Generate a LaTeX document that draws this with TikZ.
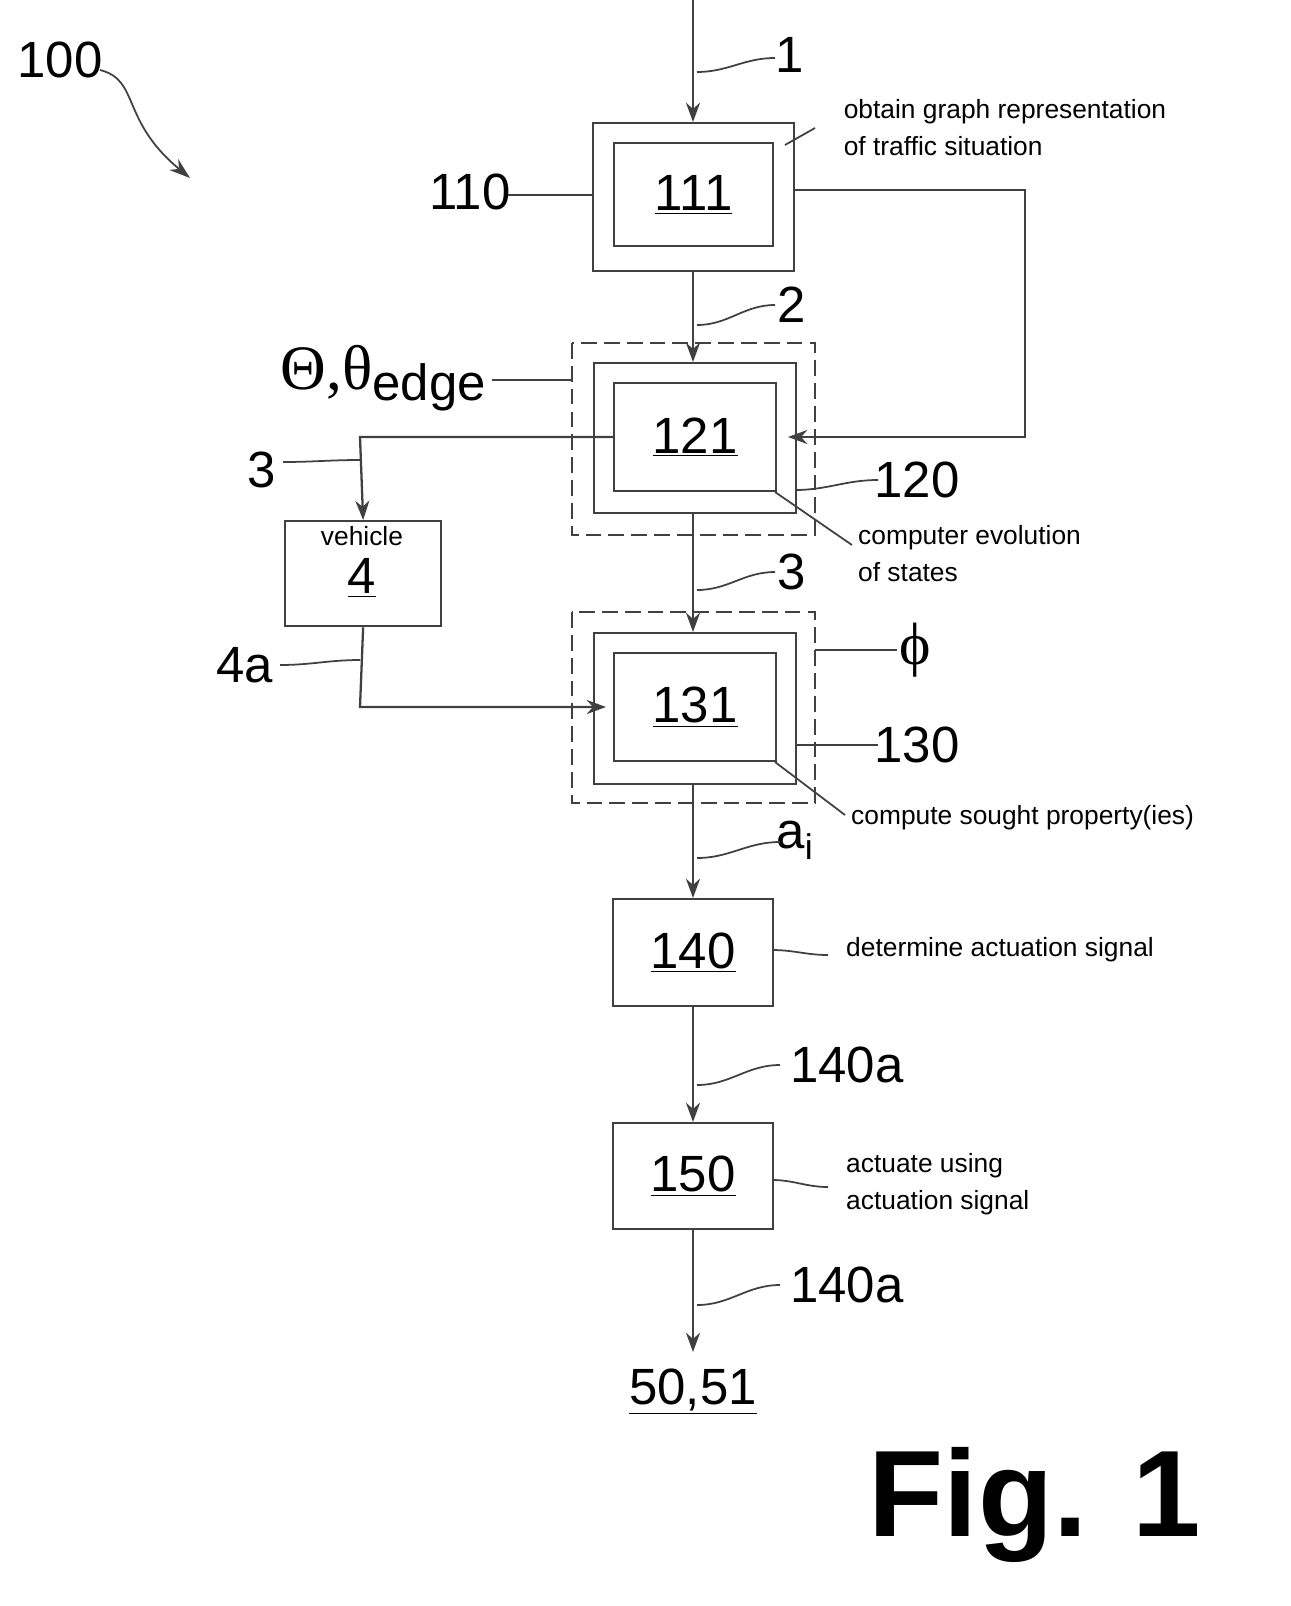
\documentclass[tikz,border=0pt]{standalone}
\usepackage{fontspec}
\setmainfont{Liberation Sans}
\newfontfamily\serifg{Liberation Serif}
\usetikzlibrary{arrows.meta,calc}
\begin{document}
\begin{tikzpicture}[x=0.02cm,y=-0.02cm,
  ln/.style={draw=black!75,line width=1.3pt},
  box/.style={ln,rectangle,inner sep=0pt,anchor=north west},
  dbox/.style={draw=black!75,line width=1.3pt,dash pattern=on 9pt off 4pt},
  arr/.style={ln,-{Stealth[length=11pt,width=8pt]}},
  lead/.style={draw=black!75,line width=1pt,out=0,in=180},
  leadr/.style={draw=black!75,line width=1pt,out=180,in=0},
  num/.style={font=\fontsize{29}{32}\selectfont},
  txt/.style={font=\fontsize{15}{21}\selectfont,align=left}]
\useasboundingbox (0,0) rectangle (1291,1606);
% boxes
\node[box,minimum width=201*0.02cm,minimum height=148*0.02cm] (b110) at (592,122) {};
\node[box,minimum width=159*0.02cm,minimum height=103*0.02cm] (b111) at (613,142) {};
\node[num] at (b111.center) {\underline{111}};
\draw[dbox] (572,343) rectangle (815,535);
\node[box,minimum width=202*0.02cm,minimum height=150*0.02cm] (b120) at (593,362) {};
\node[box,minimum width=162*0.02cm,minimum height=108*0.02cm] (b121) at (613,382) {};
\node[num] at (b121.center) {\underline{121}};
\draw[dbox] (572,612) rectangle (815,803);
\node[box,minimum width=202*0.02cm,minimum height=151*0.02cm] (b130) at (593,632) {};
\node[box,minimum width=162*0.02cm,minimum height=108*0.02cm] (b131) at (613,652) {};
\node[num] at (b131.center) {\underline{131}};
\node[box,minimum width=160*0.02cm,minimum height=107*0.02cm] (b140) at (612,898) {};
\node[num] at (b140.center) {\underline{140}};
\node[box,minimum width=160*0.02cm,minimum height=106*0.02cm] (b150) at (612,1122) {};
\node[num] at (b150.center) {\underline{150}};
\node[box,minimum width=156*0.02cm,minimum height=105*0.02cm] (b4) at (284,520) {};
\node[txt] at (362,536) {vehicle};
\node[num] at (362,578) {\underline{4}};
% main flow
\coordinate (top) at (693,0);
\draw[arr] (top) -- (693,122);
\draw[arr] (693,270) -- (693,362);
\draw[arr] (693,512) -- (693,632);
\draw[arr] (693,783) -- (693,898);
\draw[arr] (693,1005) -- (693,1122);
\coordinate (end) at (693,1352);
\draw[arr] (693,1228) -- (end);
\node[num] (out) at (693,1392) {\underline{50,51}};
% side connections
\draw[arr] (b110.east |- 0,190) -- (1025,190) -- (1025,437) -- (788,437);
\draw[arr] (613,437) -- (360,437) -- (b4.north);
\draw[arr] (b4.south) -- (360,707) -- (606,707);
% labels
\node[num] (l1) at (790,55) {1};
\draw[lead] (697,72) to (775,58);
\node[num] (l2) at (792,305) {2};
\draw[lead] (697,325) to (775,305);
\node[num] (l3) at (792,572) {3};
\draw[lead] (697,590) to (775,572);
\node[num] (lai) at (795,840) {a$_{\mathrm{i}}$};
\draw[lead] (697,858) to (780,842);
\node[num] (l140a) at (847,1065) {140a};
\draw[lead] (697,1085) to (780,1065);
\node[num] (l140b) at (847,1285) {140a};
\draw[lead] (697,1305) to (780,1285);
\node[num] (l110) at (470,192) {110};
\draw[lead] (508,195) to (592,195);
\node[num] (l120) at (917,480) {120};
\draw[leadr] (878,480) to (795,490);
\node[num] (l130) at (917,745) {130};
\draw[leadr] (878,745) to (795,745);
\node[num,anchor=east] (lth) at (492,378) {{\serifg\fontsize{36}{38}\selectfont Θ,θ}\raisebox{-6pt}{edge}};
\draw[lead] (492,380) to (572,380);
\node[num] (l3b) at (262,470) {3};
\draw[lead] (283,462) to (360,460);
\node[num] (l4a) at (245,665) {4a};
\draw[lead] (280,665) to (360,660);
\node[font=\serifg\fontsize{34}{36}\selectfont] (lphi) at (915,650) {ϕ};
\draw[lead] (815,650) to (897,650);
\node[num] (l100) at (60,60) {100};
\draw[ln,line width=1pt,-{Stealth[length=12pt,width=8pt]}] (100,70) .. controls (140,80) and (120,120) .. (190,178);
% descriptive texts
\node[txt] (t1) at (1005,128) {obtain graph representation\\of traffic situation};
\draw[ln,line width=1pt] (785,145) -- (815,128);
\node[txt,anchor=west] (t2) at (852,554) {computer evolution\\of states};
\draw[ln,line width=1pt] (775,492) -- (852,545);
\node[txt,anchor=west] (t3) at (845,818) {compute sought property(ies)};
\draw[ln,line width=1pt] (775,762) -- (845,815);
\node[txt,anchor=west] (t4) at (840,950) {determine actuation signal};
\draw[lead] (772,950) to (828,955);
\node[txt,anchor=west] (t5) at (840,1184) {actuate using\\actuation signal};
\draw[lead] (772,1180) to (828,1187);
\node[font=\bfseries\fontsize{70}{74}\selectfont] (fig) at (1035,1505) {Fig. 1};
\end{tikzpicture}
\end{document}
